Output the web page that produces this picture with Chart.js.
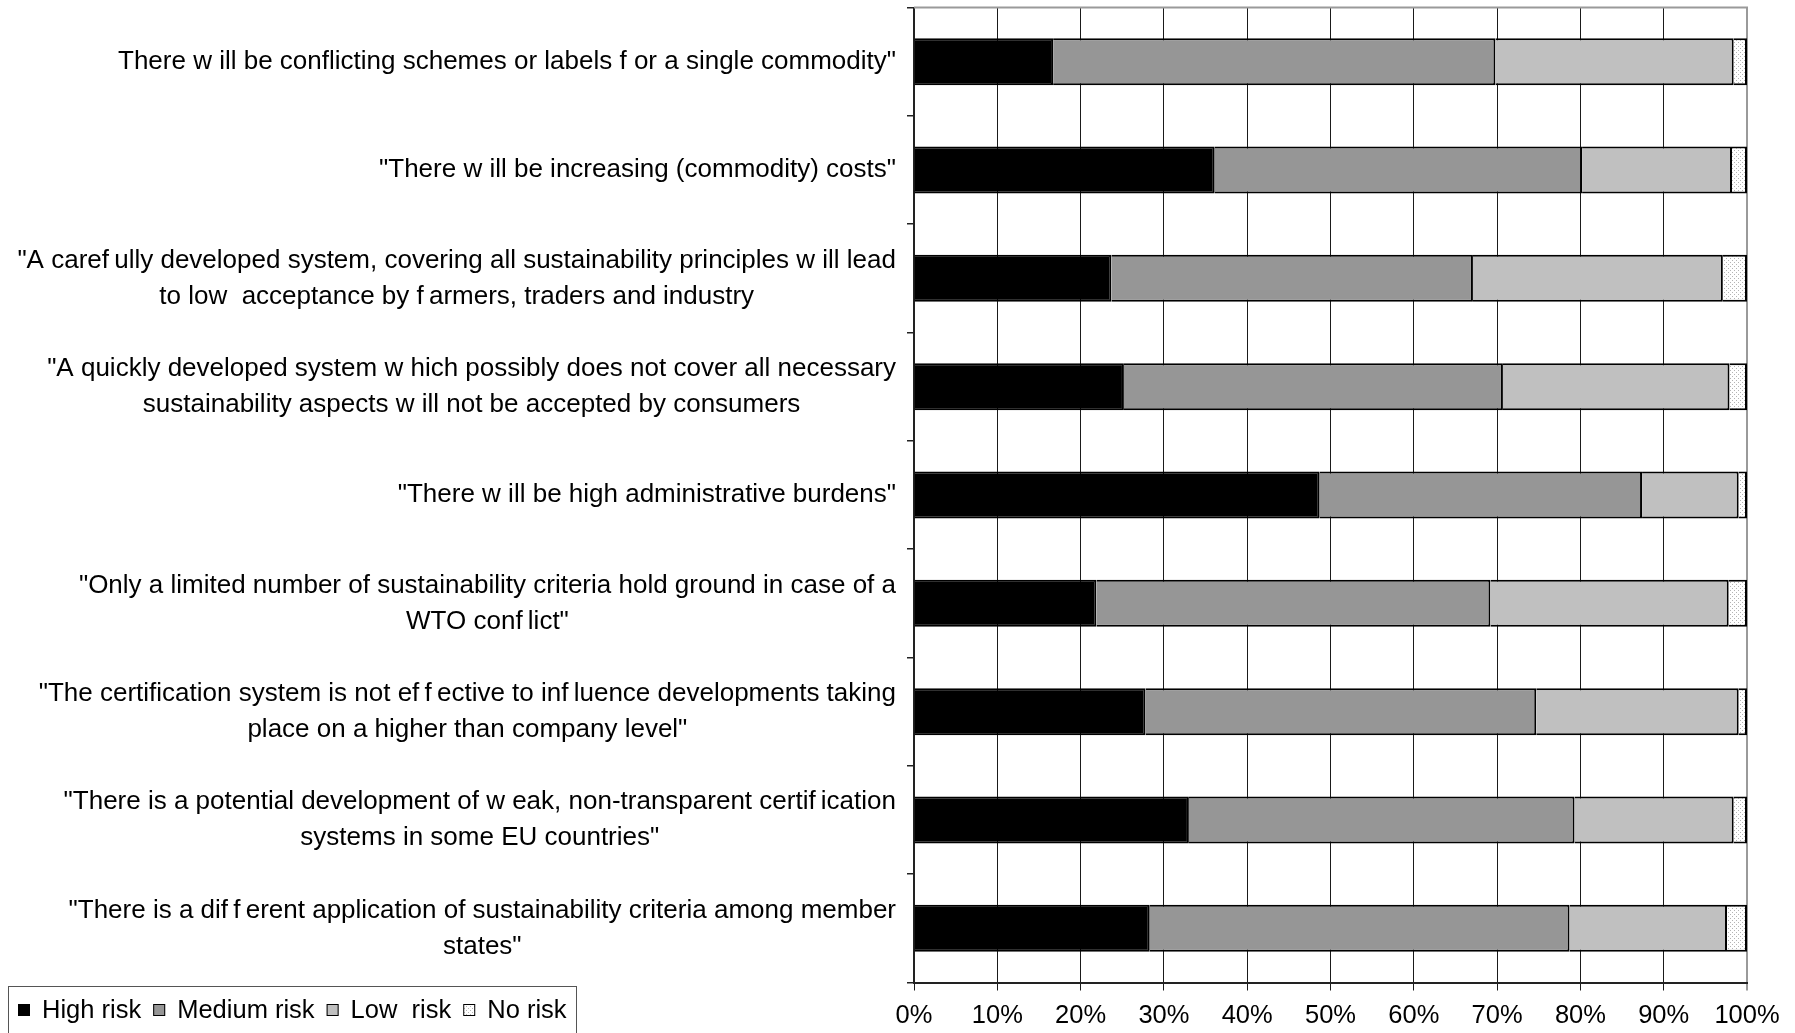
<!DOCTYPE html>
<html>
<head>
<meta charset="utf-8">
<title>Perceived risks of sustainability certification</title>
<script src="https://cdn.jsdelivr.net/npm/chart.js@4.4.1/dist/chart.umd.min.js"></script>
<style>
  html, body { margin: 0; padding: 0; background: #ffffff; }
  #wrap { position: relative; width: 1795px; height: 1033px; }
</style>
</head>
<body>
<div id="wrap"><canvas id="chart"></canvas></div>
<script>
// Statements rated by respondents (multi-line where the statement wraps)
const statements = [
  'There w ill be conflicting schemes or labels f or a single commodity"',
  '"There w ill be increasing (commodity) costs"',
  ['"A caref\u2009ully developed system, covering all sustainability principles w ill lead', 'to low  acceptance by f\u2009armers, traders and industry'],
  ['"A quickly developed system w hich possibly does not cover all necessary', 'sustainability aspects w ill not be accepted by consumers'],
  '"There w ill be high administrative burdens"',
  ['"Only a limited number of sustainability criteria hold ground in case of a', 'WTO conf\u2009lict"'],
  ['"The certification system is not ef\u2009f\u2009ective to inf\u2009luence developments taking', 'place on a higher than company level"'],
  ['"There is a potential development of w eak, non-transparent certif\u2009ication', 'systems in some EU countries"'],
  ['"There is a dif\u2009f\u2009erent application of sustainability criteria among member', 'states"']
];

// Share of respondents per risk level (%)
const highRisk   = [16.7, 36.1, 23.7, 25.2, 48.7, 21.9, 27.8, 33.0, 28.3];
const mediumRisk = [53.1, 44.1, 43.4, 45.5, 38.7, 47.3, 46.9, 46.3, 50.4];
const lowRisk    = [28.6, 18.0, 30.0, 27.2, 11.6, 28.6, 24.3, 19.1, 18.9];
const noRisk     = [ 1.6,  1.8,  2.9,  2.1,  1.0,  2.2,  1.0,  1.6,  2.4];

const seriesNames = ['High risk', 'Medium risk', 'Low  risk', 'No risk'];
const xTickLabels = ['0%', '10%', '20%', '30%', '40%', '50%', '60%', '70%', '80%', '90%', '100%'];

const FONT = '"Liberation Sans", Arial, Helvetica, sans-serif';
const FONT_SIZE = 26;

// Fine dotted fill used for "No risk"
function dottedPattern() {
  const c = document.createElement('canvas');
  c.width = 4; c.height = 4;
  const g = c.getContext('2d');
  g.fillStyle = '#ffffff';
  g.fillRect(0, 0, 4, 4);
  g.fillStyle = '#b4b4b4';
  g.fillRect(0, 0, 1, 1);
  g.fillRect(2, 2, 1, 1);
  return g.createPattern(c, 'repeat');
}

// Category labels: block right-aligned to the axis, lines centred within the block
const statementLabels = {
  id: 'statementLabels',
  afterDraw(chart) {
    const ctx = chart.ctx;
    const y = chart.scales.y;
    const right = chart.chartArea.left - 18;
    const lineH = 36;
    ctx.save();
    ctx.font = FONT_SIZE + 'px ' + FONT;
    ctx.fillStyle = '#000';
    ctx.textBaseline = 'middle';
    ctx.textAlign = 'center';
    chart.data.labels.forEach((lab, i) => {
      const lines = Array.isArray(lab) ? lab : [lab];
      const w = Math.max(...lines.map(l => ctx.measureText(l).width));
      const cx = right - w / 2;
      const cy = y.getPixelForValue(i);
      const y0 = cy - (lines.length - 1) * lineH / 2;
      lines.forEach((l, k) => ctx.fillText(l, cx, y0 + k * lineH));
    });
    ctx.restore();
  }
};

// Top edge of the plot frame
const plotFrame = {
  id: 'plotFrame',
  beforeDatasetsDraw(chart) {
    const { ctx, chartArea: a } = chart;
    ctx.save();
    ctx.strokeStyle = '#9a9a9a';
    ctx.lineWidth = 2;
    ctx.beginPath();
    ctx.moveTo(a.left, a.top);
    ctx.lineTo(a.right + 1, a.top);
    ctx.stroke();
    ctx.restore();
  }
};

// Boxed legend in the lower-left corner
const boxLegend = {
  id: 'boxLegend',
  afterDraw(chart) {
    const ctx = chart.ctx;
    ctx.save();
    ctx.strokeStyle = '#555';
    ctx.lineWidth = 1;
    ctx.strokeRect(8.5, 986.5, 568, 60);
    ctx.font = '25.5px ' + FONT;
    ctx.textBaseline = 'middle';
    ctx.textAlign = 'left';
    const cy = 1010;
    const box = 12;
    let x = 18;
    chart.data.datasets.forEach(ds => {
      ctx.fillStyle = ds.backgroundColor;
      ctx.fillRect(x, cy - box / 2, box, box);
      ctx.strokeStyle = '#000';
      ctx.lineWidth = 1;
      ctx.strokeRect(x + 0.5, cy - box / 2 + 0.5, box - 1, box - 1);
      ctx.fillStyle = '#000';
      ctx.fillText(ds.label, x + 24, cy + 1);
      x += 24 + ctx.measureText(ds.label).width + 12;
    });
    ctx.restore();
  }
};

const fills = ['#000000', '#969696', '#c0c0c0', dottedPattern()];
const values = [highRisk, mediumRisk, lowRisk, noRisk];

const datasets = seriesNames.map((name, i) => ({
  label: name,
  data: values[i],
  backgroundColor: fills[i],
  borderColor: '#000000',
  borderWidth: 2,
  borderSkipped: 'start',
  barPercentage: 0.434,
  categoryPercentage: 1.0
}));

Chart.defaults.font.family = FONT;
Chart.defaults.font.size = FONT_SIZE;
Chart.defaults.color = '#000';

new Chart(document.getElementById('chart'), {
  type: 'bar',
  data: { labels: statements, datasets },
  options: {
    indexAxis: 'y',
    responsive: true,
    maintainAspectRatio: false,
    animation: false,
    layout: { padding: { left: 0, right: 48, top: 7.5, bottom: 0 } },
    plugins: {
      legend: { display: false },
      tooltip: { enabled: false }
    },
    scales: {
      x: {
        stacked: true,
        min: 0,
        max: 100,
        afterFit(s) { s.height = 50.5; },
        ticks: {
          stepSize: 10,
          padding: 10,
          color: '#000',
          font: { size: 25.5 },
          callback: (v, i) => xTickLabels[i]
        },
        grid: {
          drawOnChartArea: true,
          drawTicks: true,
          tickLength: 8,
          color: ctx => (ctx.tick && ctx.tick.value === 100) ? '#9a9a9a' : '#1a1a1a',
          lineWidth: ctx => (ctx.tick && ctx.tick.value === 100) ? 2 : 1
        },
        border: { display: true, color: '#222', width: 2 }
      },
      y: {
        stacked: true,
        afterFit(s) { s.width = 914; },
        ticks: { display: false },
        grid: {
          offset: true,
          drawOnChartArea: false,
          drawTicks: true,
          tickLength: 7,
          color: '#222',
          lineWidth: 1.5
        },
        border: { display: true, color: '#222', width: 2 }
      }
    }
  },
  plugins: [plotFrame, statementLabels, boxLegend]
});
</script>
</body>
</html>
